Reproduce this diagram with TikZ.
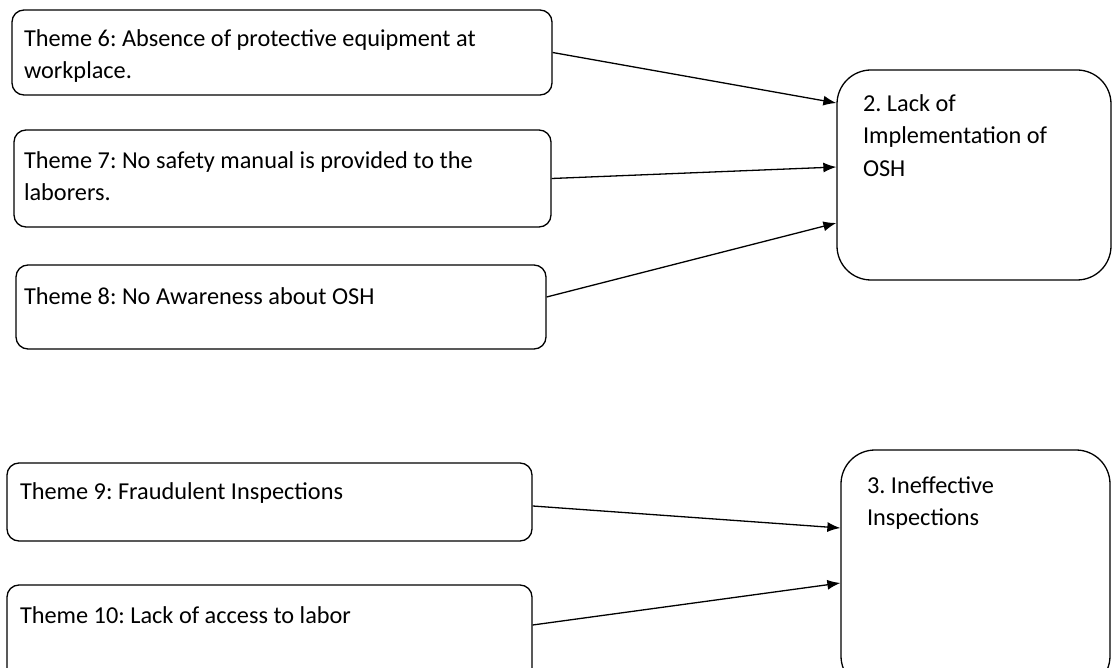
\documentclass[tikz,border=0pt]{standalone}
\usepackage{fontspec}
\setmainfont{Carlito}
\usetikzlibrary{positioning,arrows.meta}
\frenchspacing
\begin{document}
\begin{tikzpicture}[x=1pt, y=-1pt, line width=1.3pt]
    \tikzstyle{marrs}=[-{Latex[length=13pt,width=10pt]}]
    \tikzstyle{tbox}=[draw, rounded corners=12pt, inner sep=0pt]
    \tikzstyle{cbox}=[draw, rounded corners=34pt, inner sep=0pt]
    \tikzstyle{ttext}=[anchor=north west, inner sep=0pt, align=left, font=\fontsize{24.3}{32.5}\selectfont]

    \useasboundingbox (0,0) rectangle (1112,668);

    % themes
    \node[tbox, minimum width=540pt, minimum height=85pt] (t6) at (282,52.5) {};
    \node[tbox, minimum width=537pt, minimum height=97pt] (t7) at (282.5,178.5) {};
    \node[tbox, minimum width=530pt, minimum height=84pt] (t8) at (281,307) {};
    \node[tbox, minimum width=525pt, minimum height=78pt] (t9) at (269.5,502) {};
    \node[tbox, minimum width=525pt, minimum height=95pt] (t10) at (269.5,632.5) {};

    % categories
    \node[cbox, minimum width=274pt, minimum height=210pt] (c2) at (974,175) {};
    \node[cbox, minimum width=269pt, minimum height=240pt] (c3) at (975.5,570) {};

    \node[ttext] (t6txt) at ([shift={(12pt,-19.5pt)}]t6.north west) {Theme 6: Absence of protective equipment at\\workplace.};
    \node[ttext] (t7txt) at ([shift={(10pt,-21.5pt)}]t7.north west) {Theme 7: No safety manual is provided to the\\laborers.};
    \node[ttext] (t8txt) at ([shift={(8pt,-22.5pt)}]t8.north west) {Theme 8: No Awareness about OSH};
    \node[ttext] (t9txt) at ([shift={(13pt,-19.5pt)}]t9.north west) {Theme 9: Fraudulent Inspections};
    \node[ttext] (t10txt) at ([shift={(13pt,-21.5pt)}]t10.north west) {Theme 10: Lack of access to labor};
    \node[ttext] (c2txt) at ([shift={(26pt,-24.5pt)}]c2.north west) {2. Lack of\\Implementation of\\OSH};
    \node[ttext] (c3txt) at ([shift={(26pt,-26.5pt)}]c3.north west) {3. Ineffective\\Inspections};

    \draw[marrs] (t6.east) -- ([yshift=72pt]c2.west);
    \draw[marrs] (t7.east) -- ([yshift=8pt]c2.west);
    \draw[marrs] ([yshift=10pt]t8.east) -- ([yshift=-48pt]c2.west);
    \draw[marrs] ([yshift=-4pt]t9.east) -- ([yshift=42pt]c3.west);
    \draw[marrs] ([yshift=7.5pt]t10.east) -- ([yshift=-13pt]c3.west);
\end{tikzpicture}
\end{document}
